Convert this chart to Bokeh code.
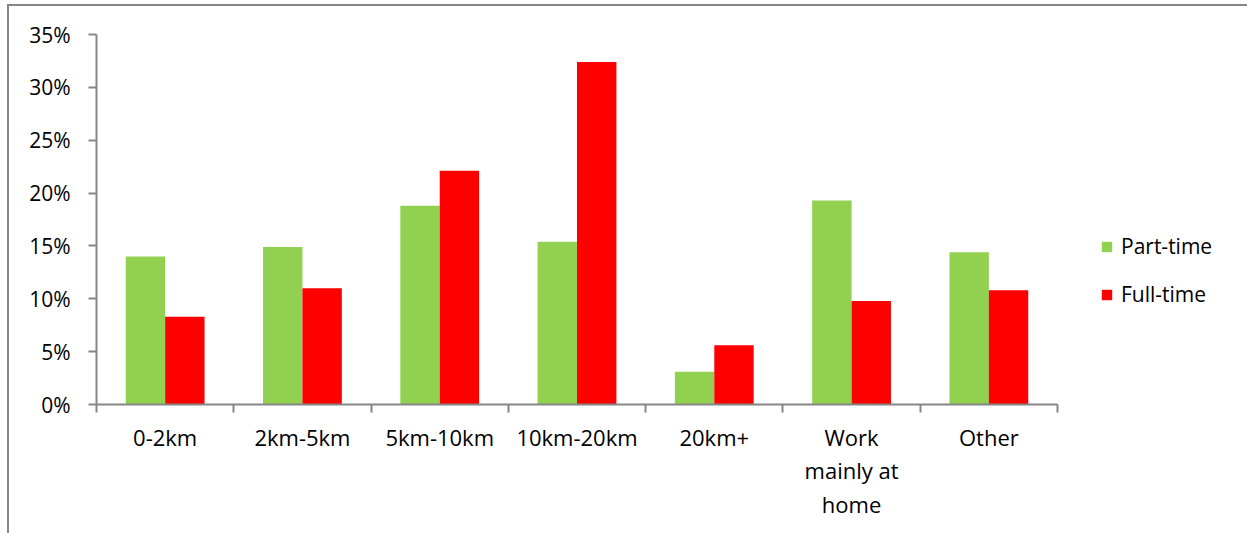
import numpy as np
from bokeh.plotting import figure
from bokeh.models import (Range1d, FixedTicker, PrintfTickFormatter, Legend, LegendItem,
                          ColumnDataSource)
from bokeh.embed import file_html
from bokeh.resources import INLINE

# Distance travelled to work, share of workers by employment type (%)
categories = ["0-2km", "2km-5km", "5km-10km", "10km-20km", "20km+", "Work\nmainly at\nhome", "Other"]
part_time = [14.0, 14.9, 18.8, 15.4, 3.1, 19.3, 14.4]
full_time = [8.3, 11.0, 22.1, 32.4, 5.6, 9.8, 10.8]
y_ticks = [0, 5, 10, 15, 20, 25, 30, 35]

GREEN = "#92D050"
RED = "#FF0000"
AXIS = "#868686"
FONT = "Open Sans"

n = len(categories)
centers = np.arange(n) + 0.5
bar_w = 0.287

# plot frame is wider than the category axis so the legend can sit to its right
FRAME_W, FRAME_H = 1146, 370
AXIS_PX = 961
x_end = n * FRAME_W / AXIS_PX

src = ColumnDataSource(dict(
    xp=centers - bar_w / 2, xf=centers + bar_w / 2,
    part=part_time, full=full_time))

p = figure(frame_width=FRAME_W, frame_height=FRAME_H, output_backend="svg", toolbar_location=None,
           x_range=Range1d(0, x_end), y_range=Range1d(0, 35),
           min_border_left=87, min_border_right=5, min_border_top=28, min_border_bottom=132)
# chart area: grey border on its top and left edges
p.margin = (4, 0, 0, 7)
p.styles = {"border-top": f"2px solid {AXIS}", "border-left": f"2px solid {AXIS}"}
p.outline_line_color = None
p.xgrid.visible = False
p.ygrid.visible = False
p.background_fill_color = "white"
p.border_fill_color = "white"

r_part = p.vbar(x="xp", top="part", width=bar_w, source=src, fill_color=GREEN, line_color=None)
r_full = p.vbar(x="xf", top="full", width=bar_w, source=src, fill_color=RED, line_color=None)

# x axis: labels at category centres, tick marks at the boundaries
xa = p.xaxis[0]
xa.bounds = (0, n)
xa.ticker = FixedTicker(ticks=list(centers), minor_ticks=list(range(n + 1)))
xa.major_label_overrides = {float(c): lab for c, lab in zip(centers, categories)}
xa.major_tick_out = 0
xa.major_tick_in = 0
xa.minor_tick_out = 8
xa.minor_tick_in = 0
xa.minor_tick_line_color = AXIS
xa.minor_tick_line_width = 2
xa.axis_line_color = AXIS
xa.axis_line_width = 2
xa.major_label_text_font = FONT
xa.major_label_text_font_size = "22px"
xa.major_label_text_color = "black"
xa.major_label_text_line_height = 1.12
xa.major_label_standoff = 9

ya = p.yaxis[0]
ya.ticker = FixedTicker(ticks=y_ticks, minor_ticks=[])
ya.formatter = PrintfTickFormatter(format="%d%%")
ya.major_tick_out = 8
ya.major_tick_in = 0
ya.major_tick_line_color = AXIS
ya.major_tick_line_width = 2
ya.axis_line_color = AXIS
ya.axis_line_width = 2
ya.major_label_text_font = FONT
ya.major_label_text_font_size = "21px"
ya.major_label_text_color = "black"
ya.major_label_standoff = 18

legend = Legend(items=[LegendItem(label="Part-time", renderers=[r_part]),
                       LegendItem(label="Full-time", renderers=[r_full])],
                location=(1004, 96), orientation="vertical",
                glyph_width=13, glyph_height=13, label_standoff=8, spacing=20,
                padding=0, margin=0, border_line_color=None, background_fill_alpha=0,
                label_text_font=FONT, label_text_font_size="21px", label_text_color="black")
p.add_layout(legend, "center")

open("out.html", "w").write(file_html(p, INLINE))
